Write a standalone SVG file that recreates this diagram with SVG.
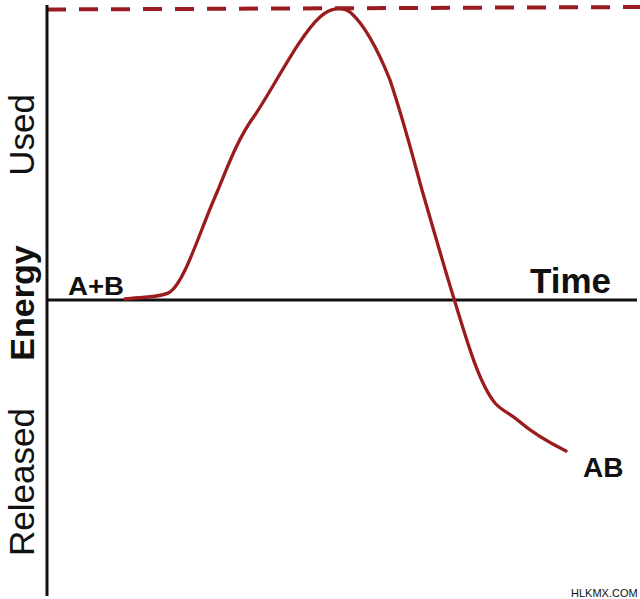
<svg xmlns="http://www.w3.org/2000/svg" width="640" height="599" viewBox="0 0 640 599">
<style>
.axis{stroke:#111;stroke-width:3;fill:none}
.curve{stroke:#9b1c1f;stroke-width:3.3;fill:none;stroke-linecap:round}
.dash{stroke:#9b1c1f;stroke-width:4;fill:none;stroke-dasharray:19 13}
.lbl{font-family:"Liberation Sans",Arial,sans-serif;fill:#111}
.b{font-weight:bold}
</style>
<rect width="640" height="599" fill="#fff"/>
<g id="connectors">
<line class="dash" x1="47" y1="9.5" x2="640" y2="7"/>
<line class="axis" x1="47" y1="5" x2="47" y2="596"/>
<line class="axis" x1="46" y1="300" x2="637" y2="300"/>
<path class="curve" d="M125,299 C140,297 160,298 170,292 C185,282 200,230 218,190 C230,160 240,135 255,115 C275,85 300,35 320,17 C330,8 342,6 350,12 C365,25 378,50 390,80 C405,125 415,165 422,190 C435,235 445,270 455,302 C468,345 480,385 495,403 C503,412 510,413 520,422 C535,435 550,443 566,451"/>
</g>
<g id="used"><text class="lbl" font-size="35" transform="translate(34,135) rotate(-90)" text-anchor="middle">Used</text></g>
<g id="energy"><text class="lbl b" font-size="34" transform="translate(34,303) rotate(-90)" text-anchor="middle">Energy</text></g>
<g id="released"><text class="lbl" font-size="35" transform="translate(34,482) rotate(-90)" text-anchor="middle">Released</text></g>
<g id="ab-start"><text class="lbl b" x="68" y="295" font-size="25" textLength="56" lengthAdjust="spacingAndGlyphs">A+B</text></g>
<g id="time"><text class="lbl b" x="530" y="293" font-size="35">Time</text></g>
<g id="ab-end"><text class="lbl b" x="583" y="477" font-size="28">AB</text></g>
<g id="credit"><text class="lbl" x="571" y="597" font-size="11">HLKMX.COM</text></g>
</svg>
